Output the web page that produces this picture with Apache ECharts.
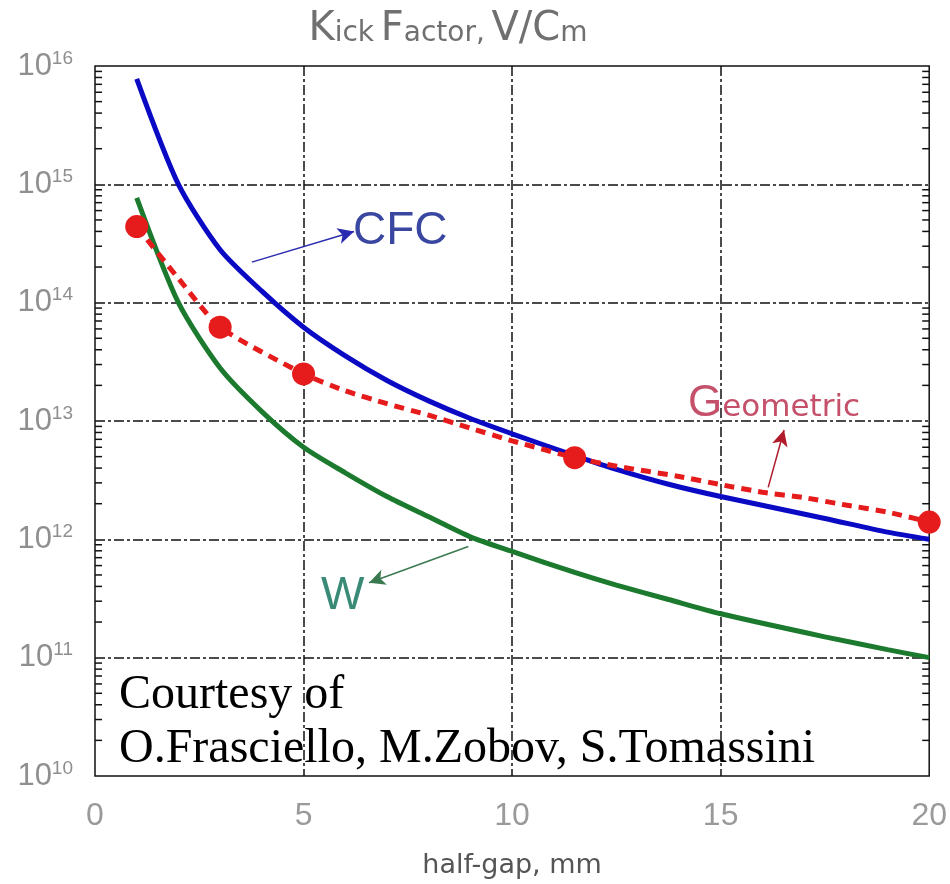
<!DOCTYPE html>
<html><head><meta charset="utf-8">
<script src="https://cdn.jsdelivr.net/npm/echarts@6/dist/echarts.min.js"></script>
<style>html,body{margin:0;padding:0;background:#fff}#c{width:950px;height:884px}</style>
</head><body><div id="c"></div>
<script>
// ---- data ----
const cfcX = [1, 2, 3, 4, 5, 6, 7, 8, 9, 10, 11.5, 12.5, 13.75, 15, 17.5, 19, 20];
const cfcY = [7.8e15, 1.0e15, 2.8e14, 1.25e14, 6.2e13, 3.55e13, 2.2e13, 1.48e13, 1.05e13, 7.8e12, 5.1e12, 3.9e12, 2.92e12, 2.3e12, 1.5e12, 1.15e12, 1.0e12];

const wX = [1, 2, 3, 4, 5, 6, 7, 8, 9, 10, 11.5, 12.5, 13.75, 15, 17.5, 19, 20];
const wY = [7.7e14, 1.0e14, 2.8e13, 1.2e13, 6.0e12, 3.65e12, 2.3e12, 1.55e12, 1.05e12, 7.9e11, 5.25e11, 4.1e11, 3.1e11, 2.35e11, 1.5e11, 1.17e11, 1.0e11];

const geoLineX = [1, 2, 3, 5, 6, 7, 8, 9, 10, 11.5, 12.5, 14, 15, 16, 17, 18, 19, 20];
const geoLineY = [4.4e14, 1.6e14, 6.2e13, 2.5e13, 1.8e13, 1.4e13, 1.12e13, 8.7e12, 6.8e12, 4.9e12, 4.15e12, 3.4e12, 2.9e12, 2.5e12, 2.25e12, 1.95e12, 1.7e12, 1.4e12];

const geoPtX = [1, 3, 5, 11.5, 20];
const geoPtY = [4.4e14, 6.2e13, 2.5e13, 4.9e12, 1.4e12];

const xTickLabels = [0, 5, 10, 15, 20];
const yDecadeExp = [10, 11, 12, 13, 14, 15, 16];
const minorMult = [2, 3, 4, 5, 6, 7, 8, 9];

// ---- build ----
const zip = (xs, ys) => xs.map((x, i) => [x, ys[i]]);
const tickData = [];
yDecadeExp.forEach(e => {
  if (e < 16) minorMult.forEach(m => tickData.push([0, m * Math.pow(10, e)]));
});

const chart = echarts.init(document.getElementById('c'), null, {renderer: 'canvas'});
const FONT = "'Liberation Sans', Arial, sans-serif";
const DJ = "'DejaVu Sans', sans-serif";
const SERIF = "'Liberation Serif', 'Times New Roman', serif";

const option = {
  animation: false,
  backgroundColor: '#fff',
  grid: {left: 95, right: 16, top: 66, bottom: 106, show: true, borderColor: '#111', borderWidth: 1.5, backgroundColor: 'transparent'},
  xAxis: {
    type: 'value', min: 0, max: 20, interval: 5,
    name: 'half-gap, mm', nameLocation: 'middle', nameGap: 76,
    nameTextStyle: {fontFamily: DJ, fontSize: 27, color: '#555'},
    axisLine: {show: false}, axisTick: {show: false},
    axisLabel: {margin: 24, fontFamily: FONT, fontSize: 32, color: '#9a9a9a',
      formatter: v => xTickLabels.indexOf(v) >= 0 ? String(v) : ''},
    splitLine: {show: true, showMinLine: false, showMaxLine: false,
      lineStyle: {color: '#111', width: 1.5, type: [10, 3, 3, 3]}}
  },
  yAxis: {
    type: 'log', logBase: 10, min: 1e10, max: 1e16,
    axisLine: {show: false}, axisTick: {show: false},
    axisLabel: {margin: 22, fontFamily: FONT, color: '#8f8f8f',
      formatter: v => '{b|10}{s|' + Math.round(Math.log10(v)) + '}',
      rich: {b: {fontSize: 31, color: '#8f8f8f', fontFamily: FONT},
             s: {fontSize: 19, color: '#8f8f8f', fontFamily: FONT, padding: [0, 0, 15, 0]}}},
    splitLine: {show: true, showMinLine: false, showMaxLine: false,
      lineStyle: {color: '#111', width: 1.5, type: [10, 3, 3, 3]}}
  },
  graphic: [
    {type: 'text', x: 448, y: 10, z: 10,
      style: {text: '{B|K}{s|ick}  {B|F}{s|actor,}  {B|V/C}{s|m}', fill: '#707070', align: 'center',
        rich: {B: {fontSize: 40, fontFamily: DJ, fill: '#707070'},
               s: {fontSize: 28, fontFamily: DJ, fill: '#707070', padding: [8, 0, 0, 0]}}}},
    {type: 'text', x: 353, y: 208, z: 10,
      style: {text: 'CFC', fontSize: 46, fontFamily: FONT, fill: '#3a47a0'}},
    {type: 'text', x: 688, y: 382, z: 10,
      style: {text: '{G|G}{e|eometric}',
        rich: {G: {fontSize: 44, fontFamily: FONT, fill: '#c4506a'},
               e: {fontSize: 31, fontFamily: DJ, fill: '#c4506a', padding: [8, 0, 0, 0]}}}},
    {type: 'text', x: 321, y: 573, z: 10,
      style: {text: 'W', fontSize: 46, fontFamily: FONT, fill: '#3a8a78'}},
    {type: 'text', x: 119, y: 671, z: 10,
      style: {text: 'Courtesy of', fontSize: 48, fontFamily: SERIF, fill: '#000'}},
    {type: 'text', x: 119, y: 725, z: 10,
      style: {text: 'O.Frasciello, M.Zobov, S.Tomassini', fontSize: 48, fontFamily: SERIF, fill: '#000'}}
  ],
  series: [
    {type: 'custom', name: 'ticks', silent: true, z: 1,
      data: tickData,
      renderItem: (params, api) => {
        const v = api.value(1);
        const pL = api.coord([0, v]);
        const pR = api.coord([20, v]);
        const len = 7;
        const st = {stroke: '#111', lineWidth: 1.5};
        return {type: 'group', children: [
          {type: 'line', shape: {x1: pL[0], y1: pL[1], x2: pL[0] + len, y2: pL[1]}, style: st},
          {type: 'line', shape: {x1: pR[0], y1: pR[1], x2: pR[0] - len, y2: pR[1]}, style: st}
        ]};
      }},
    {type: 'line', name: 'W', data: zip(wX, wY), showSymbol: false, symbol: 'none', z: 3, smooth: 0.25,
      lineStyle: {color: '#1c7a2e', width: 5},
      markLine: {silent: true, symbol: ['none', 'arrow'], symbolSize: [12, 16], label: {show: false},
        lineStyle: {color: '#3a7a50', width: 1.5, type: 'solid'},
        data: [[{coord: [8.95, 8.7e11]}, {coord: [6.57, 4.3e11]}]]}},
    {type: 'line', name: 'CFC', data: zip(cfcX, cfcY), showSymbol: false, symbol: 'none', z: 4, smooth: 0.25,
      lineStyle: {color: '#0a0ac4', width: 5},
      markLine: {silent: true, symbol: ['none', 'arrow'], symbolSize: [12, 16], label: {show: false},
        lineStyle: {color: '#2a2ab0', width: 1.5, type: 'solid'},
        data: [[{coord: [3.76, 2.2e14]}, {coord: [6.21, 4.0e14]}]]}},
    {type: 'line', name: 'Geometric', data: zip(geoLineX, geoLineY), showSymbol: false, symbol: 'none', z: 5, smooth: 0.2,
      lineStyle: {color: '#e61c1c', width: 5, type: [10, 7]},
      markLine: {silent: true, symbol: ['none', 'arrow'], symbolSize: [12, 16], label: {show: false},
        lineStyle: {color: '#b01a2a', width: 1.5, type: 'solid'},
        data: [[{coord: [16.14, 2.75e12]}, {coord: [16.52, 8.4e12]}]]}},
    {type: 'scatter', name: 'Geometric points', data: zip(geoPtX, geoPtY), symbol: 'circle', symbolSize: 23, z: 6,
      itemStyle: {color: '#e61c1c', opacity: 1}}
  ]
};
chart.setOption(option);
</script></body></html>
